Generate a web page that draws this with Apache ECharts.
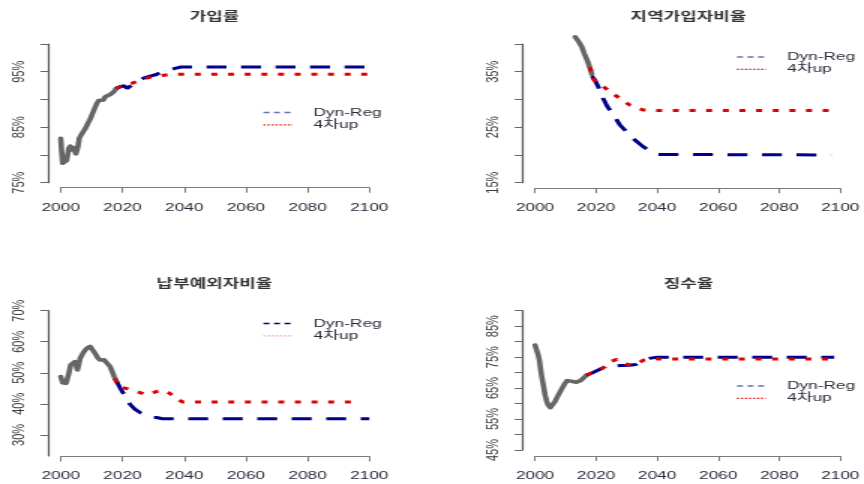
<!DOCTYPE html>
<html>
<head>
<meta charset="utf-8">
<script src="https://cdn.jsdelivr.net/npm/echarts@6/dist/echarts.min.js"></script>
<style>
  html, body { margin: 0; padding: 0; background: #fff; overflow: hidden; width: 864px; height: 484px; }
  /* plotted on a narrow canvas, then widened 1.5x like the original device output */
  #chart { width: 576px; height: 484px; transform: scaleX(1.5); transform-origin: 0 0; }
</style>
</head>
<body>
<div id="chart"></div>
<script>
// ---- 가입률 ----
const joinHistYears = [2000, 2000.3, 2000.6, 2001.3, 2001.9, 2002.6, 2003.1, 2003.6, 2004.2, 2004.9, 2005.5, 2006.0, 2006.6, 2007.3, 2008.0, 2008.7, 2009.5, 2010.3, 2011.0, 2011.7, 2012.3, 2013.0, 2013.8, 2014.4, 2015.2, 2016.0, 2016.6, 2017.2, 2018.0];
const joinHistVals  = [83.0, 80.5, 78.5, 78.6, 79.0, 81.2, 81.6, 80.9, 81.3, 80.2, 81.3, 83.0, 83.6, 83.9, 84.8, 85.6, 86.4, 87.5, 88.4, 89.3, 89.8, 89.7, 89.9, 90.5, 90.4, 90.9, 90.7, 91.4, 92.0];
const joinDynYears  = [2018, 2019.5, 2020.5, 2021.5, 2023, 2025, 2027, 2029, 2031, 2033, 2035, 2037, 2039, 2100];
const joinDynVals   = [92.0, 92.3, 92.5, 92.0, 92.6, 93.3, 93.9, 94.2, 94.5, 95.1, 95.3, 95.6, 95.86, 95.86];
const joinUpYears   = [2018, 2020, 2021.5, 2023, 2025, 2027.5, 2030, 2032.5, 2035, 2040, 2100];
const joinUpVals    = [92.0, 92.6, 92.8, 92.9, 93.3, 93.8, 94.1, 94.3, 94.5, 94.55, 94.55];
const joinTicks  = [75, 80, 85, 90, 95, 100];
const joinLabels = [75, 85, 95];

// ---- 지역가입자비율 ----
const localHistYears = [2013.1, 2014.3, 2015.3, 2016.1, 2016.9, 2017.6, 2018.2, 2018.6];
const localHistVals  = [41.3, 40.4, 39.5, 38.3, 37.3, 36.3, 35.3, 34.5];
const localDynYears  = [2018.6, 2019.6, 2020.7, 2022.3, 2023.6, 2026.1, 2027.8, 2030.5, 2032.7, 2035.4, 2038.1, 2040.3, 2041, 2097];
const localDynVals   = [34.2, 33.5, 32.3, 30.2, 28.8, 26.9, 25.4, 23.9, 22.7, 21.5, 20.6, 20.1, 20.0, 20.0];
const localUpYears   = [2018, 2018.6, 2019.5, 2021.8, 2024.5, 2027.8, 2031, 2035.4, 2040.8, 2097];
const localUpVals    = [35.8, 34.2, 33.4, 32.6, 31.4, 30.2, 29.0, 28.1, 28.0, 28.0];
const localTicks  = [15, 20, 25, 30, 35, 40];
const localLabels = [15, 25, 35];

// ---- 납부예외자비율 ----
const exemptHistYears = [2000, 2000.6, 2001.7, 2002.5, 2003.2, 2003.6, 2004.1, 2004.6, 2005.4, 2006.3, 2007.3, 2008.4, 2009.5, 2010.1, 2011.1, 2012.0, 2012.7, 2014.0, 2014.9, 2016.0, 2017.3, 2018.1];
const exemptHistVals  = [48.8, 46.8, 46.6, 49.3, 52.5, 53.1, 52.0, 53.6, 50.9, 54.7, 56.5, 57.9, 58.5, 58.4, 56.3, 54.8, 54.1, 54.2, 53.8, 52.0, 48.8, 47.2];
const exemptDynYears  = [2018.1, 2019.3, 2020.2, 2021.0, 2022.5, 2024.0, 2025.7, 2027.5, 2029.5, 2031, 2033, 2100];
const exemptDynVals   = [47.2, 45.0, 43.5, 42.3, 39.8, 38.3, 37.2, 36.2, 35.6, 35.6, 35.2, 35.2];
const exemptUpYears   = [2017.6, 2018.7, 2021.4, 2024, 2025.7, 2027.9, 2030, 2031.5, 2033.3, 2035, 2036.5, 2038, 2039.5, 2097];
const exemptUpVals    = [48.1, 45.6, 44.9, 44.2, 43.6, 42.9, 43.6, 44.1, 44.4, 43.6, 42.5, 41.4, 40.6, 40.6];
const exemptTicks  = [30, 40, 50, 60, 70];
const exemptLabels = [30, 40, 50, 60, 70];

// ---- 징수율 ----
const collectHistYears = [2000, 2000.5, 2001.0, 2001.4, 2001.8, 2002.2, 2002.8, 2003.3, 2003.8, 2004.3, 2005.0, 2005.5, 2006.5, 2007.3, 2008.2, 2009.0, 2009.8, 2010.5, 2011.2, 2012.0, 2012.5, 2013.5, 2014.2, 2015.0, 2015.8, 2016.9];
const collectHistVals  = [78.9, 77.3, 75.8, 74.1, 71.2, 68.7, 65.5, 62.7, 60.8, 59.5, 58.7, 58.8, 60.6, 62.2, 63.8, 65.2, 66.5, 67.4, 67.8, 67.2, 67.0, 66.9, 67.0, 67.5, 68.1, 69.2];
const collectDynYears  = [2016.9, 2018.5, 2020.2, 2022, 2025, 2028, 2031, 2033, 2035, 2037.5, 2040, 2098];
const collectDynVals   = [69.2, 69.8, 70.6, 71.4, 72.0, 72.3, 72.4, 72.6, 73.8, 74.6, 75.0, 75.0];
const collectUpYears   = [2016.9, 2018.5, 2020.2, 2022.9, 2024.5, 2026.8, 2028.5, 2030.6, 2032.8, 2035.5, 2039.3, 2041, 2098];
const collectUpVals    = [69.2, 69.9, 70.6, 71.9, 73.5, 74.3, 73.6, 72.5, 72.5, 74.0, 74.5, 74.4, 74.4];
const collectTicks  = [45, 50, 55, 60, 65, 70, 75, 80, 85, 90];
const collectLabels = [45, 55, 65, 75, 85];

const DYN = 'Dyn-Reg';
const UP = '4차up';
const FONT = '"Liberation Sans", Arial, "Noto Sans CJK KR", sans-serif';
const KFONT = '"Noto Sans CJK KR", "Liberation Sans", sans-serif';

function pairs(xs, ys) { return xs.map((x, i) => [x, ys[i]]); }

// one entry per panel: data + the panel's place on the canvas
const panels = [
  { title: '가입률', hist: [joinHistYears, joinHistVals], dyn: [joinDynYears, joinDynVals], up: [joinUpYears, joinUpVals],
    yMin: 75, yMax: 100, ticks: joinTicks, labels: joinLabels,
    grid: { left: 40.5, top: 44, width: 205.7, height: 138.7 }, xOff: 5,
    titlePos: [143, 10], legendPos: [175, 106.5], legendFaded: false },
  { title: '지역가입자비율', hist: [localHistYears, localHistVals], dyn: [localDynYears, localDynVals], up: [localUpYears, localUpVals],
    yMin: 15, yMax: 40, ticks: localTicks, labels: localLabels,
    grid: { left: 356.7, top: 44, width: 205.7, height: 138.7 }, xOff: 5.5,
    titlePos: [459, 10], legendPos: [490.7, 51], legendFaded: false },
  { title: '납부예외자비율', hist: [exemptHistYears, exemptHistVals], dyn: [exemptDynYears, exemptDynVals], up: [exemptUpYears, exemptUpVals],
    yMin: 23.2, yMax: 70, ticks: exemptTicks, labels: exemptLabels,
    grid: { left: 40.5, top: 310.7, width: 205.7, height: 145.3 }, xOff: 0.5,
    titlePos: [143, 277], legendPos: [175, 317.5], legendFaded: true },
  { title: '징수율', hist: [collectHistYears, collectHistVals], dyn: [collectDynYears, collectDynVals], up: [collectUpYears, collectUpVals],
    yMin: 45, yMax: 90, ticks: collectTicks, labels: collectLabels,
    grid: { left: 356.7, top: 310.7, width: 205.7, height: 139.3 }, xOff: 6,
    titlePos: [459, 277], legendPos: [490.7, 380], legendFaded: false }
];

const option = {
  animation: false,
  backgroundColor: '#ffffff',
  title: [], grid: [], xAxis: [], yAxis: [], series: [], legend: []
};

panels.forEach((p, i) => {
  option.title.push({
    text: p.title, left: p.titlePos[0], top: p.titlePos[1], padding: 0,
    textAlign: 'center', textVerticalAlign: 'top',
    textStyle: { fontFamily: KFONT, fontSize: 12, fontWeight: 'bold', color: '#333' }
  });
  option.grid.push(Object.assign({ containLabel: false }, p.grid));
  option.xAxis.push({
    type: 'value', gridIndex: i, min: 2000, max: 2100, interval: 20, offset: p.xOff,
    axisLine: { show: true, lineStyle: { color: '#7a7a7a', width: 1 } },
    axisTick: { show: true, length: 5, lineStyle: { color: '#7a7a7a' } },
    axisLabel: { margin: 14, fontSize: 11.5, color: '#2a2a3a', fontFamily: FONT, hideOverlap: false,
                 showMinLabel: true, showMaxLabel: true, formatter: v => String(v) },
    splitLine: { show: false }
  });
  option.yAxis.push({
    type: 'value', gridIndex: i, min: p.yMin, max: p.yMax, offset: 8.5,
    axisLine: { show: true, lineStyle: { color: '#555', width: 1.2 } },
    axisTick: { show: true, length: 5, customValues: p.ticks, lineStyle: { color: '#666' } },
    axisLabel: { rotate: 90, margin: 14, customValues: p.labels, formatter: v => v + '%',
                 fontSize: 11, color: '#3a3a3a', fontFamily: FONT },
    splitLine: { show: false }
  });
  const common = { type: 'line', xAxisIndex: i, yAxisIndex: i, symbol: 'none', showSymbol: false,
                   clip: false, silent: true };
  option.series.push(Object.assign({}, common, {
    name: '실적', data: pairs(p.hist[0], p.hist[1]), z: 2,
    lineStyle: { color: '#666666', width: 3.6, cap: 'round', join: 'round' }
  }));
  option.series.push(Object.assign({}, common, {
    name: DYN, data: pairs(p.dyn[0], p.dyn[1]), z: 3,
    lineStyle: { color: '#00008b', width: 3, type: [13.3, 9.7] }
  }));
  option.series.push(Object.assign({}, common, {
    name: UP, data: pairs(p.up[0], p.up[1]), z: 4,
    lineStyle: { color: '#e00000', width: 3, type: [4, 7.1] }
  }));
  option.legend.push({
    orient: 'vertical', left: p.legendPos[0], top: p.legendPos[1], padding: 0,
    itemWidth: 19.4, itemHeight: 12, itemGap: 0.3, selectedMode: false,
    itemStyle: { color: 'rgba(0,0,0,0)', borderWidth: 0 },
    data: [
      { name: DYN, lineStyle: { color: p.legendFaded ? '#00008b' : '#6c6cb8', width: 1.3, type: [4, 3] } },
      { name: UP, lineStyle: { color: p.legendFaded ? '#f3a0a0' : '#e01010', width: 1.3, type: [1.4, 1.3] } }
    ],
    textStyle: { fontFamily: FONT, fontSize: 11.5, color: '#2a2a3a', lineHeight: 12, padding: [0, 0, 0, 9] }
  });
});

const chart = echarts.init(document.getElementById('chart'));
chart.setOption(option);
</script>
</body>
</html>
